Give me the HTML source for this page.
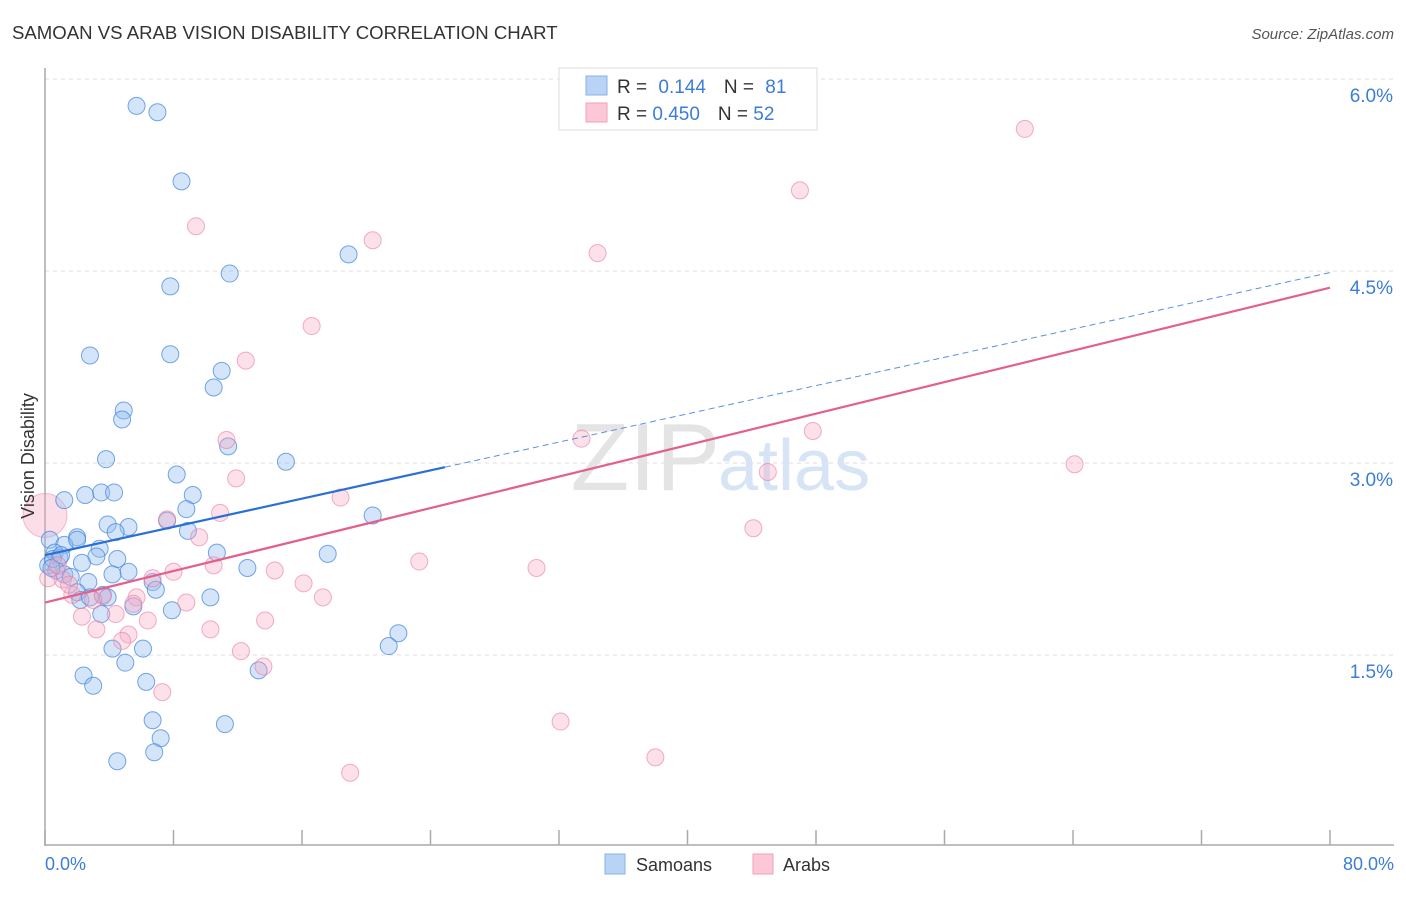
<!DOCTYPE html>
<html><head><meta charset="utf-8"><style>
body{margin:0;background:#fff;font-family:"Liberation Sans",sans-serif}
svg text{font-family:"Liberation Sans",sans-serif}
</style></head><body>
<svg width="1406" height="892" viewBox="0 0 1406 892">
<text x="12" y="39" font-size="18.6" fill="#333">SAMOAN VS ARAB VISION DISABILITY CORRELATION CHART</text>
<text x="1394" y="39" font-size="15" fill="#555" font-style="italic" text-anchor="end">Source: ZipAtlas.com</text>
<g id="grid"></g>
<text x="720" y="490" font-size="96" fill="#e4e4e4" text-anchor="end" font-family="Liberation Serif">ZIP</text>
<text x="718" y="490" font-size="72" fill="#d6e4f5">atlas</text>
<line x1="45" y1="68" x2="45" y2="846" stroke="#aaa" stroke-width="1.5"/>
<line x1="45" y1="845" x2="1394" y2="845" stroke="#aaa" stroke-width="1.5"/>
<g id="xticks"></g>
<g id="pts"></g>
<g id="lines"></g>
<text x="45" y="870" font-size="18" fill="#3b7dd8">0.0%</text>
<text x="1394" y="870" font-size="18" fill="#3b7dd8" text-anchor="end">80.0%</text>
<text transform="translate(34,456) rotate(-90)" font-size="18" fill="#333" text-anchor="middle">Vision Disability</text>
<g>
<rect x="559" y="68" width="258" height="62" fill="#fff" stroke="#ddd"/>
<rect x="586" y="76" width="21" height="19" fill="#b8d3f5" stroke="#88b0e8"/>
<rect x="586" y="103" width="21" height="19" fill="#fcc8d8" stroke="#f0a0b8"/>
<text x="617" y="93" font-size="19" fill="#333">R = <tspan fill="#3b7dd8" dx="6">0.144</tspan><tspan dx="18" fill="#333">N = </tspan><tspan fill="#3b7dd8" dx="6">81</tspan></text>
<text x="617" y="120" font-size="19" fill="#333">R = <tspan fill="#3b7dd8">0.450</tspan><tspan dx="18" fill="#333">N = </tspan><tspan fill="#3b7dd8">52</tspan></text>
</g>
<g>
<rect x="605" y="854" width="20" height="20" fill="#b8d3f5" stroke="#88b0e8"/>
<text x="636" y="871" font-size="18" fill="#333">Samoans</text>
<rect x="753" y="854" width="20" height="20" fill="#fcc8d8" stroke="#f0a0b8"/>
<text x="783" y="871" font-size="18" fill="#333">Arabs</text>
</g>
</svg>
<script>
const yTicks=[1.5,3.0,4.5,6.0];
const yTickLabels=["1.5%","3.0%","4.5%","6.0%"];
const xTicks=[0,8,16,24,32,40,48,56,64,72,80];
const samoanX=[5.7,7.0,8.5,18.9,11.5,7.8,2.8,7.8,11.0,10.5,4.9,4.8,11.4,3.8,15.0,8.2,1.2,2.5,3.5,4.3,9.2,8.8,20.4,7.6,3.9,5.2,4.4,8.9,0.3,2.0,1.2,2.0,3.4,10.7,17.6,0.6,0.9,3.2,4.5,0.2,2.3,0.7,1.2,1.6,12.6,5.2,4.2,2.7,6.7,6.9,2.0,3.6,2.2,2.8,3.9,10.3,5.5,7.9,3.5,22.0,21.4,4.2,6.1,5.0,13.3,2.4,3.0,6.3,6.7,11.2,7.2,6.8,4.5,0.5,1.0,0.4];
const samoanY=[5.79,5.74,5.2,4.63,4.48,4.38,3.84,3.85,3.72,3.59,3.41,3.34,3.13,3.03,3.01,2.91,2.71,2.75,2.77,2.77,2.75,2.64,2.59,2.55,2.52,2.50,2.46,2.47,2.4,2.42,2.36,2.40,2.33,2.30,2.29,2.30,2.26,2.27,2.25,2.2,2.22,2.16,2.13,2.11,2.18,2.15,2.13,2.07,2.07,2.01,1.99,1.97,1.93,1.95,1.95,1.95,1.88,1.85,1.82,1.67,1.57,1.55,1.55,1.44,1.38,1.34,1.26,1.29,0.99,0.96,0.85,0.74,0.67,2.25,2.28,2.18];
const arabX=[61.0,47.0,9.4,20.4,34.4,16.6,12.5,47.8,33.4,11.3,64.1,45.0,11.9,18.4,7.6,10.9,44.1,9.6,23.3,30.6,10.5,14.3,8.0,6.7,1.1,16.1,5.7,3.6,1.7,3.0,17.3,8.8,5.5,2.3,4.4,6.4,13.7,3.2,10.3,5.2,4.8,12.2,13.6,7.3,32.1,38.0,19.0,0.2,0.8,1.5];
const arabY=[5.61,5.13,4.85,4.74,4.64,4.07,3.80,3.25,3.19,3.18,2.99,2.93,2.88,2.73,2.56,2.61,2.49,2.42,2.23,2.18,2.20,2.16,2.15,2.10,2.09,2.06,1.95,1.96,1.97,1.93,1.95,1.91,1.90,1.80,1.82,1.77,1.77,1.70,1.70,1.66,1.61,1.53,1.41,1.21,0.98,0.70,0.58,2.1,2.2,2.05];
const blueLine=[2.28,0.0276,24.9];
const pinkLine=[1.91,0.03075];
const NS="http://www.w3.org/2000/svg";
const sx=v=>45+v*16.0625;
const sy=v=>655-(v-1.5)*128;
function mk(tag,attrs,parent){const e=document.createElementNS(NS,tag);for(const k in attrs)e.setAttribute(k,attrs[k]);parent.appendChild(e);return e;}
const grid=document.getElementById('grid');
yTicks.forEach((t,i)=>{
 const l=mk('line',{x1:45,x2:1394,y1:sy(t),y2:sy(t),stroke:'#ddd','stroke-dasharray':'4,4'},grid);
 
 
 const tx=mk('text',{x:1393,y:sy(t)+23,'font-size':19,fill:'#3b7dd8','text-anchor':'end'},grid);
 tx.textContent=yTickLabels[i];
 
 
});
const xt=document.getElementById('xticks');
xTicks.forEach(t=>{
 const l=mk('line',{x1:sx(t),x2:sx(t),y1:830,y2:845,stroke:'#aaa','stroke-width':1.5},xt);
 
 
});
const pts=document.getElementById('pts');
const big=mk('circle',{cx:sx(0),cy:sy(2.59),r:22,fill:'rgba(246,160,190,0.35)',stroke:'rgba(236,130,165,0.5)'},pts);


samoanX.forEach((x,i)=>{
 const c=mk('circle',{cx:sx(x),cy:sy(samoanY[i]),r:8.5,fill:'rgba(150,190,240,0.4)',stroke:'rgba(60,130,220,0.7)','stroke-width':1},pts);
 
 
});
arabX.forEach((x,i)=>{
 const c=mk('circle',{cx:sx(x),cy:sy(arabY[i]),r:8.5,fill:'rgba(246,170,195,0.35)',stroke:'rgba(236,120,160,0.6)','stroke-width':1},pts);
 
 
});
const lines=document.getElementById('lines');
const b1=mk('line',{x1:sx(0),y1:sy(blueLine[0]),x2:sx(blueLine[2]),y2:sy(blueLine[0]+blueLine[1]*blueLine[2]),stroke:'#2a6fd6','stroke-width':2.2},lines);


const b2=mk('line',{x1:sx(blueLine[2]),y1:sy(blueLine[0]+blueLine[1]*blueLine[2]),x2:sx(80),y2:sy(blueLine[0]+blueLine[1]*80),stroke:'#5a90e0','stroke-width':1,'stroke-dasharray':'6,4'},lines);


const p1=mk('line',{x1:sx(0),y1:sy(pinkLine[0]),x2:sx(80),y2:sy(pinkLine[0]+pinkLine[1]*80),stroke:'#e4608c','stroke-width':2.2},lines);


</script>
</body></html>
